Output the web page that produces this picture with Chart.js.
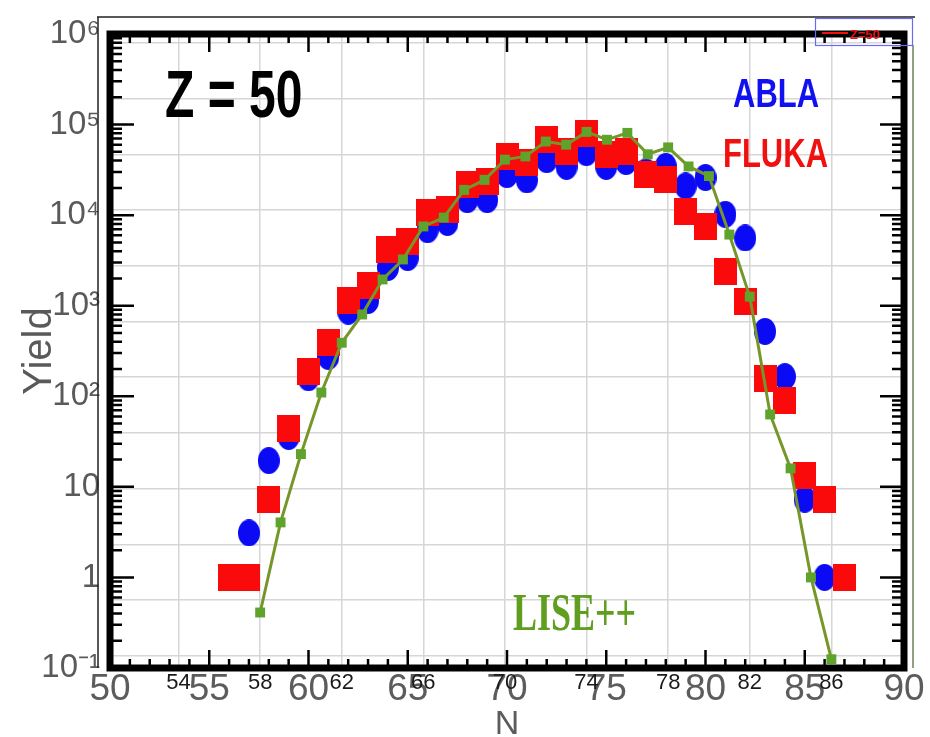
<!DOCTYPE html>
<html>
<head>
<meta charset="utf-8">
<title>Z = 50 yields</title>
<script src="https://cdn.jsdelivr.net/npm/chart.js@4.4.1/dist/chart.umd.min.js"></script>
<style>
  html, body { margin: 0; padding: 0; background: #fff; }
  #wrap { width: 930px; height: 737px; }
</style>
</head>
<body>
<div id="wrap"><canvas id="yieldChart" width="930" height="737"></canvas></div>
<script>
const ablaN = [57, 58, 59, 60, 61, 62, 63, 64, 65, 66, 67, 68, 69, 70, 71,
  72, 73, 74, 75, 76, 77, 78, 79, 80, 81, 82, 83, 84, 85, 86];
const ablaYield = [3.1, 19.5, 36, 160, 275, 870, 1140, 2640, 3400, 6900, 8300,
  14800, 14800, 28000, 24500, 41000, 34500, 49000, 34500, 39000, 30000, 34500,
  21000, 26000, 10200, 5600, 520, 165, 7.3, 1.0];

const flukaN = [56, 57, 58, 59, 60, 61, 62, 63, 64, 65, 66, 67, 68, 69, 70, 71,
  72, 73, 74, 75, 76, 77, 78, 79, 80, 81, 82, 83, 84, 85, 86, 87];
const flukaYield = [1, 1, 7.2, 44, 190, 390, 1140, 1670, 4200, 5100, 10700,
  11500, 22000, 23500, 44500, 38000, 68000, 50000, 79000, 47000, 50000, 28000,
  25000, 11000, 7500, 2400, 1120, 158, 90, 13.4, 7.3, 1];

const liseN = [58, 59, 60, 61, 62, 63, 64, 65, 66, 67, 68, 69, 70, 71, 72, 73,
  74, 75, 76, 77, 78, 79, 80, 81, 82, 83, 84, 85, 86];
const liseYield = [0.41, 4.05, 23, 110, 390, 800, 1950, 3240, 7500, 9400, 19000,
  24500, 41000, 44500, 65000, 60000, 83000, 68000, 81000, 47000, 56000, 34500,
  27000, 6100, 1260, 63, 16, 1.0, 0.125];

// tick labels
const xTicks = [50, 55, 60, 65, 70, 75, 80, 85, 90];
const xSmallTicks = [54, 58, 62, 66, 70, 74, 78, 82, 86];
const yTickValues = [0.1, 1, 10, 100, 1000, 10000, 100000, 1000000];
const yTickLabels = ["10\u207B\u00B9", "1", "10", "10\u00B2", "10\u00B3", "10\u2074", "10\u2075", "10\u2076"];

const GRID = "#d6d6d6";

function toPoints(ns, ys) {
  return ns.map((n, i) => ({ x: n, y: ys[i] }));
}

// slightly tall markers, like the scanned figure
function makeMarker(w, h, color, round) {
  const c = document.createElement("canvas");
  c.width = w;
  c.height = h;
  const g = c.getContext("2d");
  g.fillStyle = color;
  if (round) {
    g.beginPath();
    g.ellipse(w / 2, h / 2, w / 2, h / 2, 0, 0, Math.PI * 2);
    g.fill();
  } else {
    g.fillRect(0, 0, w, h);
  }
  return c;
}

function stretchedText(ctx, text, x, y, font, color, sy) {
  ctx.save();
  ctx.translate(x, y);
  ctx.scale(1, sy);
  ctx.font = font;
  ctx.fillStyle = color;
  ctx.textBaseline = "alphabetic";
  ctx.textAlign = "left";
  ctx.fillText(text, 0, 0);
  ctx.restore();
}

// thick frame with inward ticks + the labels inside the plot
const framePlugin = {
  id: "frame",
  beforeDatasetsDraw(chart) {
    const { ctx, chartArea: a, scales } = chart;
    ctx.save();
    ctx.strokeStyle = "#000";
    ctx.lineWidth = 2.5;
    ctx.beginPath();
    for (let n = 50; n <= 90; n++) {
      const px = scales.x.getPixelForValue(n);
      const len = n % 5 === 0 ? 18 : 9;
      ctx.moveTo(px, a.bottom);
      ctx.lineTo(px, a.bottom - len);
      ctx.moveTo(px, a.top);
      ctx.lineTo(px, a.top + len);
    }
    for (let d = -1; d < 6; d++) {
      for (let m = 1; m < 10; m++) {
        const py = scales.y.getPixelForValue(m * Math.pow(10, d));
        const len = m === 1 ? 24 : 12;
        ctx.moveTo(a.left, py);
        ctx.lineTo(a.left + len, py);
        ctx.moveTo(a.right, py);
        ctx.lineTo(a.right - len, py);
      }
    }
    ctx.stroke();

    ctx.lineWidth = 7;
    ctx.strokeRect(a.left, a.top, a.width, a.height);

    // thin outer lines of the underlying figure
    ctx.lineWidth = 1.5;
    ctx.strokeStyle = "#222";
    ctx.beginPath();
    ctx.moveTo(97, 17);
    ctx.lineTo(915, 17);
    ctx.moveTo(98, 17);
    ctx.lineTo(98, a.bottom);
    ctx.stroke();
    ctx.strokeStyle = "#6d7f5a";
    ctx.beginPath();
    ctx.moveTo(913, 45);
    ctx.lineTo(913, a.bottom);
    ctx.stroke();

    // small Z=50 legend box
    ctx.strokeStyle = "#6a6af0";
    ctx.lineWidth = 1.2;
    ctx.strokeRect(815.5, 18.5, 97, 27);
    ctx.strokeStyle = "#f01010";
    ctx.lineWidth = 2;
    ctx.beginPath();
    ctx.moveTo(822, 33);
    ctx.lineTo(848, 33);
    ctx.stroke();
    ctx.fillStyle = "#f01010";
    ctx.font = "bold 13px 'Liberation Sans'";
    ctx.fillText("Z=50", 850, 39);

    stretchedText(ctx, "Z = 50", 165, 117, "bold 48px 'Liberation Sans'", "#000", 1.37);
    stretchedText(ctx, "ABLA", 733, 107, "bold 31px 'Liberation Sans'", "#1010f0", 1.32);
    stretchedText(ctx, "FLUKA", 723, 167, "bold 31px 'Liberation Sans'", "#f01010", 1.32);
    stretchedText(ctx, "LISE++", 513, 630, "bold 36px 'Liberation Serif'", "#5f9e1e", 1.45);
    ctx.restore();
  },
};

const ctx = document.getElementById("yieldChart").getContext("2d");
new Chart(ctx, {
  type: "scatter",
  data: {
    datasets: [
      {
        label: "LISE++",
        data: toPoints(liseN, liseYield),
        xAxisID: "x2",
        yAxisID: "y",
        showLine: true,
        borderColor: "#77962a",
        borderWidth: 3,
        tension: 0,
        pointStyle: "rect",
        pointRadius: 7,
        pointBackgroundColor: "#5fa22c",
        pointBorderWidth: 0,
        clip: false,
      },
      {
        label: "FLUKA",
        data: toPoints(flukaN, flukaYield),
        xAxisID: "x",
        yAxisID: "y",
        pointStyle: makeMarker(23, 27, "#fa0a0a", false),
        pointRadius: 12,
        clip: false,
      },
      {
        label: "ABLA",
        data: toPoints(ablaN, ablaYield),
        xAxisID: "x",
        yAxisID: "y",
        pointStyle: makeMarker(22, 27, "#0a0af5", true),
        pointRadius: 12,
        clip: false,
      },
    ],
  },
  options: {
    responsive: false,
    animation: false,
    layout: {
      padding: { top: 34, right: 26, left: 0, bottom: 0 },
    },
    plugins: {
      legend: { display: false },
      tooltip: { enabled: false },
    },
    scales: {
      x: {
        type: "linear",
        position: "bottom",
        weight: 1,
        min: 50,
        max: 90,
        afterBuildTicks: (axis) => {
          axis.ticks = xTicks.map((v) => ({ value: v }));
        },
        afterFit: (axis) => {
          axis.height = 69;
        },
        grid: { display: false, drawTicks: false },
        border: { display: false },
        ticks: {
          autoSkip: false,
          maxRotation: 0,
          padding: 0,
          color: "#5c5c5c",
          font: { family: "'Liberation Sans'", size: 37 },
        },
        title: {
          display: true,
          text: "N",
          color: "#5c5c5c",
          padding: 0,
          font: { family: "'Liberation Sans'", size: 34, lineHeight: 0.7 },
        },
      },
      // second (LISE++) N axis: small labels drawn over the big ones
      x2: {
        type: "linear",
        position: "bottom",
        weight: 0,
        min: 50.64,
        max: 89.56,
        afterBuildTicks: (axis) => {
          axis.ticks = xSmallTicks.map((v) => ({ value: v }));
        },
        afterFit: (axis) => {
          axis.height = 0;
        },
        grid: { color: GRID, lineWidth: 1.5, drawTicks: false },
        border: { display: false },
        ticks: {
          autoSkip: false,
          maxRotation: 0,
          mirror: true,
          padding: -28,
          color: "#1a1a1a",
          font: { family: "'Liberation Sans'", size: 22 },
        },
      },
      y: {
        type: "logarithmic",
        position: "left",
        min: 0.1,
        max: 1000000,
        afterBuildTicks: (axis) => {
          axis.ticks = yTickValues.map((v) => ({ value: v }));
        },
        afterFit: (axis) => {
          axis.width = 110;
        },
        grid: { display: false, drawTicks: false },
        border: { display: false },
        ticks: {
          padding: 10,
          color: "#5a5a5a",
          font: { family: "'Liberation Sans'", size: 33 },
          callback: (v, i) => yTickLabels[i],
        },
        title: {
          display: true,
          text: "Yield",
          color: "#5a5a5a",
          padding: { top: 20 },
          font: { family: "'Liberation Sans'", size: 40, lineHeight: 1 },
        },
      },
      // background grid of the overlaid figure (not on decades)
      y2: {
        type: "linear",
        position: "right",
        min: 0,
        max: 11.38,
        afterBuildTicks: (axis) => {
          const rows = [];
          for (let k = 0; k <= 11; k++) rows.push({ value: 0.22 + k });
          axis.ticks = rows;
        },
        afterFit: (axis) => {
          axis.width = 0;
        },
        grid: { color: GRID, lineWidth: 1.5, drawTicks: false },
        border: { display: false },
        ticks: { display: false },
      },
    },
  },
  plugins: [framePlugin],
});
</script>
</body>
</html>
